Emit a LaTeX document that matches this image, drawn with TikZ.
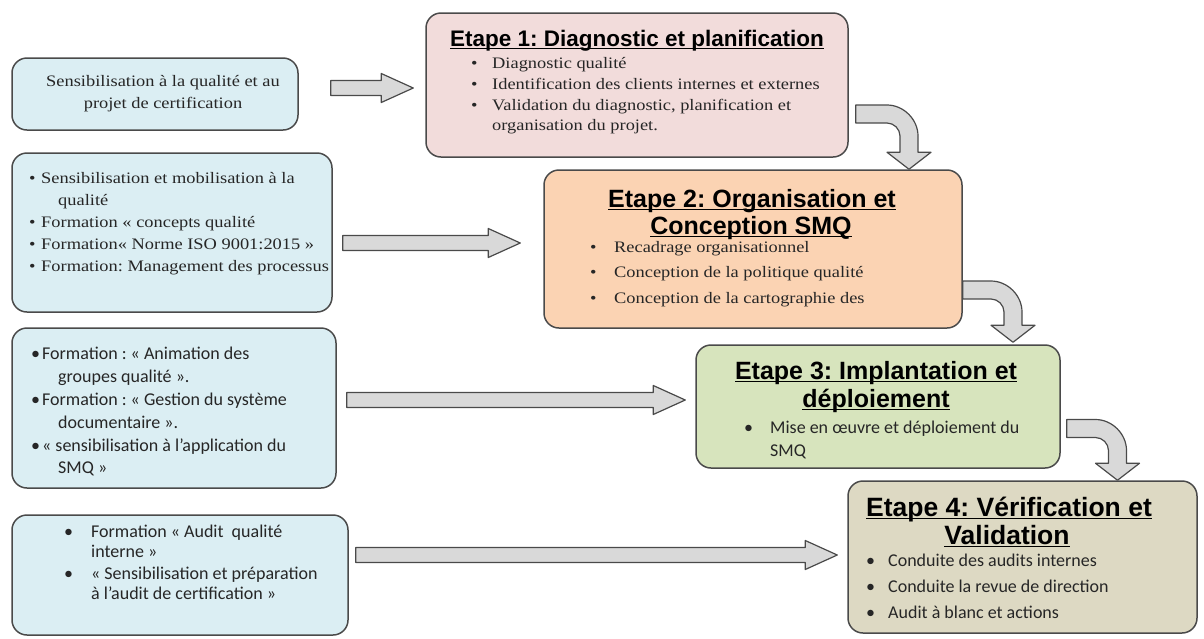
\documentclass[tikz,border=0pt]{standalone}
\usepackage{fontspec}
\setmainfont[FakeStretch=1.15]{Liberation Serif}
\newfontfamily\titlefont{Liberation Sans}
\newfontfamily\calfont{Carlito}
\usetikzlibrary{calc}
\frenchspacing

\definecolor{txt}{HTML}{262626}
\definecolor{edge}{HTML}{4A4A4A}
\definecolor{leftfill}{HTML}{DBEEF3}
\definecolor{pinkfill}{HTML}{F2DCDB}
\definecolor{peachfill}{HTML}{FBD3B3}
\definecolor{greenfill}{HTML}{D7E4BD}
\definecolor{tanfill}{HTML}{DDD9C3}
\definecolor{arrowfill}{HTML}{D9D9D9}

% thick underline for the step titles
\newcommand\ulined[1]{\setbox0\hbox{#1}\leavevmode\rlap{\rule[-3.4pt]{\wd0}{1.8pt}}\box0}

% straight block arrow from a start point to a tip at the same height
\newcommand\hbarrow[2]{%
  \draw[barrow] let \p1=(#1), \p2=(#2) in
    (\x1,\y1+7.5pt) -- (\x2-32pt,\y1+7.5pt) -- (\x2-32pt,\y1+14.5pt) -- (\x2,\y1)
    -- (\x2-32pt,\y1-14.5pt) -- (\x2-32pt,\y1-7.5pt) -- (\x1,\y1-7.5pt) -- cycle;}

% bent block arrow: runs right from the start, turns down to the tip
\newcommand\bbarrow[2]{%
  \draw[barrow] let \p1=(#1), \p2=(#2) in
    (\x1,\y1+9pt) -- (\x2-22pt,\y1+9pt)
    .. controls (\x2-5.4pt,\y1+9pt) and (\x2+9pt,\y1-5.4pt) .. (\x2+9pt,\y1-22pt)
    -- (\x2+9pt,\y2+17pt) -- (\x2+22pt,\y2+17pt) -- (\x2,\y2)
    -- (\x2-22pt,\y2+17pt) -- (\x2-9pt,\y2+17pt) -- (\x2-9pt,\y1-22pt)
    .. controls (\x2-9pt,\y1-15pt) and (\x2-15pt,\y1-9pt) .. (\x2-22pt,\y1-9pt)
    -- (\x1,\y1-9pt) -- cycle;}

\begin{document}
\begin{tikzpicture}[x=1pt,y=-1pt,
  box/.style={draw=edge, line width=1.5pt, rounded corners=15pt, inner sep=0pt},
  leftbox/.style={box, fill=leftfill},
  barrow/.style={draw=edge, line width=1.2pt, fill=arrowfill, line join=round},
  ser/.style={font=\fontsize{16}{19}\selectfont, text=txt, inner sep=0pt},
  cal/.style={font=\calfont\fontsize{18}{21}\selectfont, text=txt, inner sep=0pt},
  ttl/.style={font=\titlefont\bfseries\fontsize{25}{28}\selectfont, text=black, inner sep=0pt, anchor=base},
  bl/.style={anchor=base west},
  bc/.style={anchor=base}]
\useasboundingbox[fill=white] (0,0) rectangle (1204,638);

% boxes
\node[leftbox, minimum width=286, minimum height=72] (l1) at (155,94) {};
\node[leftbox, minimum width=320, minimum height=159] (l2) at (172,232.5) {};
\node[leftbox, minimum width=324, minimum height=160] (l3) at (174,408) {};
\node[leftbox, minimum width=336, minimum height=120] (l4) at (180,575) {};
\node[box, fill=pinkfill, minimum width=422, minimum height=144] (e1) at (637,85) {};
\node[box, fill=peachfill, minimum width=418, minimum height=158] (e2) at (753,249) {};
\node[box, fill=greenfill, minimum width=364, minimum height=123] (e3) at (878,406.5) {};
\node[box, fill=tanfill, minimum width=349, minimum height=152] (e4) at (1022.5,557) {};

% arrow end points
\coordinate (a1s) at ($(l1.east)+(32,-6)$);
\coordinate (a1e) at ($(e1.west)+(-12,3)$);
\coordinate (a2s) at ($(l2.east)+(10,10.5)$);
\coordinate (a2e) at ($(e2.west)+(-23,-6)$);
\coordinate (a3s) at ($(l3.east)+(10,-8)$);
\coordinate (a3e) at ($(e3.west)+(-10,-6.5)$);
\coordinate (a4s) at ($(l4.east)+(7,-20)$);
\coordinate (a4e) at ($(e4.west)+(-10,-2)$);
\coordinate (b1s) at ($(e1.east)+(7,29)$);
\coordinate (b1e) at ($(e2.north)+(156,0)$);
\coordinate (b2s) at ($(e2.east)+(0,41)$);
\coordinate (b2e) at ($(e3.north)+(135,-2)$);
\coordinate (b3s) at ($(e3.east)+(6,22)$);
\coordinate (b3e) at ($(e4.north)+(95,0)$);

\hbarrow{a1s}{a1e}
\hbarrow{a2s}{a2e}
\hbarrow{a3s}{a3e}
\hbarrow{a4s}{a4e}
\bbarrow{b1s}{b1e}
\bbarrow{b2s}{b2e}
\bbarrow{b3s}{b3e}

% left column texts
\node[ser, bc] (l1a) at (163,86) {Sensibilisation à la qualité et au};
\node[ser, bc] (l1b) at (163,108) {projet de certification};

\node[ser, bl] (l2a) at (29,183) {\makebox[12pt][l]{\textbullet}Sensibilisation et mobilisation à la};
\node[ser, bl] (l2b) at (58,205) {qualité};
\node[ser, bl] (l2c) at (29,227) {\makebox[12pt][l]{\textbullet}Formation « concepts qualité};
\node[ser, bl] (l2d) at (29,249) {\makebox[12pt][l]{\textbullet}Formation« Norme ISO 9001:2015 »};
\node[ser, bl] (l2e) at (29,271) {\makebox[12pt][l]{\textbullet}Formation: Management des processus};

\node[cal, bl] (l3a) at (31,359) {\makebox[11pt][l]{\textbullet}Formation : « Animation des};
\node[cal, bl] (l3b) at (58,382) {groupes qualité ».};
\node[cal, bl] (l3c) at (31,405) {\makebox[11pt][l]{\textbullet}Formation : « Gestion du système};
\node[cal, bl] (l3d) at (58,428) {documentaire ».};
\node[cal, bl] (l3e) at (31,451) {\makebox[11pt][l]{\textbullet}« sensibilisation à l’application du};
\node[cal, bl] (l3f) at (58,473) {SMQ »};

\node[cal, bl] (l4a) at (64,537) {\makebox[27pt][l]{\textbullet}Formation « Audit~ qualité};
\node[cal, bl] (l4b) at (91,557) {interne »};
\node[cal, bl] (l4c) at (64,579) {\makebox[27pt][l]{\textbullet}« Sensibilisation et préparation};
\node[cal, bl] (l4d) at (91,599) {à l’audit de certification »};

% step 1
\node[ttl, font=\titlefont\bfseries\fontsize{22.5}{25}\selectfont] (e1t) at (637,46) {\ulined{Etape 1: Diagnostic et planification}};
\node[ser, bl] (e1a) at (471,68) {\makebox[21pt][l]{\textbullet}Diagnostic qualité};
\node[ser, bl] (e1b) at (471,89) {\makebox[21pt][l]{\textbullet}Identification des clients internes et externes};
\node[ser, bl] (e1c) at (471,110) {\makebox[21pt][l]{\textbullet}Validation du diagnostic, planification et};
\node[ser, bl] (e1d) at (492,130) {organisation du projet.};

% step 2
\node[ttl] (e2t) at (752,207) {\ulined{Etape 2: Organisation et}};
\node[ttl] (e2u) at (751,234) {\ulined{Conception SMQ}};
\node[ser, bl] (e2a) at (590,252) {\makebox[24pt][l]{\textbullet}Recadrage organisationnel};
\node[ser, bl] (e2b) at (590,277) {\makebox[24pt][l]{\textbullet}Conception de la politique qualité};
\node[ser, bl] (e2c) at (590,303) {\makebox[24pt][l]{\textbullet}Conception de la cartographie des};

% step 3
\node[ttl] (e3t) at (876,379) {\ulined{Etape 3: Implantation et}};
\node[ttl] (e3u) at (876,407) {\ulined{déploiement}};
\node[cal, bl] (e3a) at (744,433) {\makebox[26pt][l]{\textbullet}Mise en œuvre et déploiement du};
\node[cal, bl] (e3b) at (770,456) {SMQ};

% step 4
\node[ttl, font=\titlefont\bfseries\fontsize{26.5}{29}\selectfont] (e4t) at (1009,516) {\ulined{Etape 4: Vérification et}};
\node[ttl, font=\titlefont\bfseries\fontsize{26.5}{29}\selectfont] (e4u) at (1007,544) {\ulined{Validation}};
\node[cal, bl] (e4a) at (866,566) {\makebox[22pt][l]{\textbullet}Conduite des audits internes};
\node[cal, bl] (e4b) at (866,592) {\makebox[22pt][l]{\textbullet}Conduite la revue de direction};
\node[cal, bl] (e4c) at (866,618) {\makebox[22pt][l]{\textbullet}Audit à blanc et actions};
\end{tikzpicture}
\end{document}
